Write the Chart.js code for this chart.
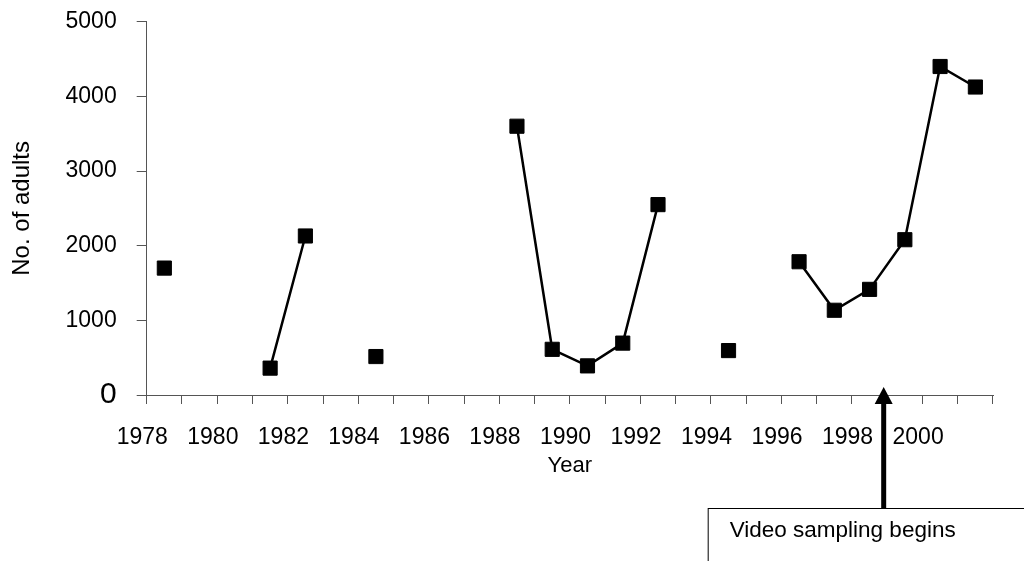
<!DOCTYPE html>
<html>
<head>
<meta charset="utf-8">
<script src="https://cdn.jsdelivr.net/npm/chart.js@4.4.0/dist/chart.umd.min.js"></script>
<style>
  html, body { margin: 0; padding: 0; background: #fff; }
  #wrap { width: 1024px; height: 561px; position: relative; }
</style>
</head>
<body>
<div id="wrap"><canvas id="c" width="1024" height="561"></canvas></div>
<script>
const years = ['1978','1979','1980','1981','1982','1983','1984','1985','1986','1987','1988','1989',
               '1990','1991','1992','1993','1994','1995','1996','1997','1998','1999','2000','2001'];
const adults = [1700, null, null, 360, 2130, null, 515, null, null, null, 3600, 612,
                390, 695, 2550, null, 595, null, 1785, 1135, 1415, 2080, 4400, 4125];
const yTicks = [0, 1000, 2000, 3000, 4000, 5000];
const xTitle = 'Year';
const yTitle = 'No. of adults';
const annotationText = 'Video sampling begins';
const annotationYear = '1998';

const FONT = "'Liberation Sans', Arial, sans-serif";

const annotationPlugin = {
  id: 'videoNote',
  afterDraw(chart) {
    const xs = chart.scales.x;
    const ctx = chart.ctx;
    const i = years.indexOf(annotationYear);
    const step = xs.getPixelForValue(1) - xs.getPixelForValue(0);
    const x = xs.getPixelForValue(i) + 0.4 * step;
    const base = chart.chartArea.bottom;
    const boxTop = base + 113;
    ctx.save();
    ctx.strokeStyle = '#000';
    ctx.lineWidth = 5;
    ctx.beginPath();
    ctx.moveTo(x, boxTop);
    ctx.lineTo(x, base + 6);
    ctx.stroke();
    ctx.fillStyle = '#000';
    ctx.beginPath();
    ctx.moveTo(x, base - 8);
    ctx.lineTo(x - 9, base + 9);
    ctx.lineTo(x + 9, base + 9);
    ctx.closePath();
    ctx.fill();
    ctx.lineWidth = 1;
    ctx.strokeRect(x - 176 + 0.5, boxTop + 0.5, 400, 100);
    ctx.font = '22.5px ' + FONT;
    ctx.textBaseline = 'alphabetic';
    ctx.textAlign = 'left';
    ctx.fillText(annotationText, x - 154, boxTop + 29);
    ctx.restore();
  }
};

new Chart(document.getElementById('c'), {
  type: 'line',
  data: {
    labels: years,
    datasets: [{
      data: adults,
      borderColor: '#000',
      backgroundColor: '#000',
      borderWidth: 2.5,
      pointStyle: 'rect',
      pointRadius: 10,
      pointBorderWidth: 1,
      pointBackgroundColor: '#000',
      pointBorderColor: '#000',
      spanGaps: false,
      tension: 0
    }]
  },
  options: {
    responsive: false,
    animation: false,
    devicePixelRatio: 1,
    layout: { padding: { top: 21.7, right: 31, left: 0, bottom: 0 } },
    plugins: { legend: { display: false }, tooltip: { enabled: false } },
    scales: {
      x: {
        type: 'category',
        offset: true,
        grid: { display: true, drawOnChartArea: false, drawTicks: true, tickLength: 9, offset: true, color: '#555', tickColor: '#555' },
        border: { display: true, color: '#555', width: 1 },
        ticks: {
          autoSkip: false,
          maxRotation: 0,
          minRotation: 0,
          color: '#000',
          font: { family: FONT, size: 23 },
          padding: 20,
          labelOffset: -22,
          callback: function(v, idx) { const l = years[idx]; return (+l % 2 === 0) ? l : ''; }
        },
        title: { display: true, text: xTitle, color: '#000', font: { family: FONT, size: 22 }, padding: { top: 0, bottom: 82 } },
        afterFit(s) { s.height = 166; s.paddingLeft = 0; s.paddingRight = 0; }
      },
      y: {
        min: 0,
        max: 5000,
        grid: { display: true, drawOnChartArea: false, drawTicks: true, tickLength: 10, color: '#555', tickColor: '#555' },
        border: { display: true, color: '#555', width: 1 },
        afterBuildTicks(s) { s.ticks = yTicks.map(v => ({ value: v })); },
        ticks: {
          color: '#000',
          padding: 20,
          font: (c) => (c.tick && c.tick.value === 0) ? { family: FONT, size: 30 } : { family: FONT, size: 23 },
          callback: (v) => String(v)
        },
        title: { display: true, text: yTitle, color: '#000', font: { family: FONT, size: 24 }, padding: { top: 8, bottom: 0 } },
        afterFit(s) { s.width = 146.7; s.paddingTop = 0; s.paddingBottom = 0; }
      }
    }
  },
  plugins: [annotationPlugin]
});
</script>
</body>
</html>
